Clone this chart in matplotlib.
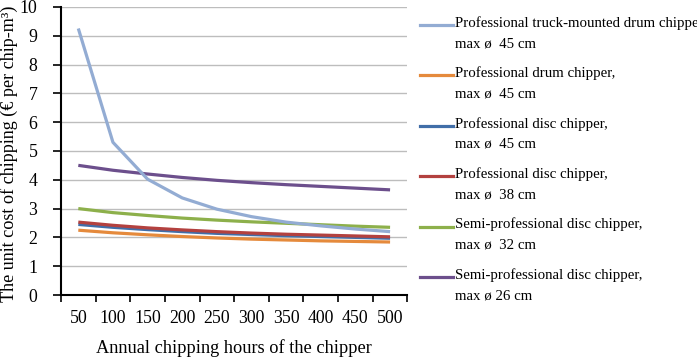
import matplotlib
matplotlib.use("Agg")
import matplotlib.pyplot as plt
from matplotlib.lines import Line2D
import numpy as np

hours = ["50", "100", "150", "200", "250", "300", "350", "400", "450", "500"]
truck_drum_45 = [9.25, 5.3, 4.02, 3.37, 2.98, 2.72, 2.53, 2.4, 2.29, 2.2]
drum_45 = [2.25, 2.16, 2.09, 2.03, 1.98, 1.94, 1.91, 1.88, 1.86, 1.84]
disc_45 = [2.45, 2.35, 2.27, 2.2, 2.14, 2.1, 2.06, 2.03, 2.0, 1.97]
disc_38 = [2.53, 2.42, 2.33, 2.26, 2.2, 2.15, 2.11, 2.08, 2.05, 2.02]
semi_disc_32 = [3.0, 2.86, 2.76, 2.67, 2.6, 2.54, 2.49, 2.44, 2.39, 2.35]
semi_disc_26 = [4.5, 4.33, 4.2, 4.08, 3.98, 3.9, 3.83, 3.77, 3.71, 3.65]

labels = [
    "Professional truck-mounted drum chipper,\nmax ø  45 cm",
    "Professional drum chipper,\nmax ø  45 cm",
    "Professional disc chipper,\nmax ø  45 cm",
    "Professional disc chipper,\nmax ø  38 cm",
    "Semi-professional disc chipper,\nmax ø  32 cm",
    "Semi-professional disc chipper,\nmax ø 26 cm",
]
series = [truck_drum_45, drum_45, disc_45, disc_38, semi_disc_32, semi_disc_26]
colors = ["#93ACD3", "#E58A3C", "#416EA8", "#B3413F", "#8DB04B", "#6C4F8C"]

plt.rcParams['font.family'] = ['Liberation Serif', 'DejaVu Serif']

fig = plt.figure(figsize=(6.97, 3.62), dpi=100)
ax = fig.add_axes([0.0875, 0.185, 0.497, 0.796])

x = np.arange(len(hours))
for i in [1, 2, 3, 4, 5, 0]:
    ax.plot(x, series[i], color=colors[i], lw=2.3, solid_capstyle='butt', zorder=3)

ax.set_xlim(-0.5, len(hours) - 0.5)
ax.set_ylim(0, 10)
ax.set_yticks(range(0, 11))
ax.set_xticks(x)
ax.set_xticklabels(hours)
ax.set_xticks(np.arange(-0.5, len(hours)), minor=True)
ax.tick_params(axis='x', which='major', length=0, pad=11, labelsize=12.8)
ax.tick_params(axis='x', which='minor', length=5, width=1.2, direction='out')
ax.tick_params(axis='y', length=6, width=1.2, direction='out', labelsize=12.8, pad=11)
ax.grid(axis='y', color='#BDBDBD', lw=1.0, zorder=0)
for s in ['top', 'right']:
    ax.spines[s].set_visible(False)
for s in ['left', 'bottom']:
    ax.spines[s].set_linewidth(1.5)
    ax.spines[s].set_color('black')
ax.set_xlabel("Annual chipping hours of the chipper", fontsize=13.2)
ax.set_ylabel("The unit cost of chipping (€ per chip-m³)", fontsize=13.1)
ax.xaxis.set_label_coords(0.5, -(348 - 295) / 288, transform=ax.transAxes)
ax.xaxis.label.set_va('center')
ax.yaxis.set_label_coords(-(61 - 9) / 346, 0.49, transform=ax.transAxes)
ax.yaxis.label.set_va('center')

# legend drawn manually
dy = 50.4
for k in range(6):
    yh = 25 + k * dy
    fig.add_artist(Line2D([420 / 697, 453 / 697], [1 - yh / 362, 1 - yh / 362],
                          color=colors[k], lw=2.3, transform=fig.transFigure))
    first, second = labels[k].split("\n")
    fig.text(455 / 697, 1 - (yh - 2) / 362, first, fontsize=10.7, va='center', ha='left')
    fig.text(455 / 697, 1 - (yh + 18.5) / 362, second, fontsize=10.7, va='center', ha='left')

fig.savefig("out.png", dpi=100)
